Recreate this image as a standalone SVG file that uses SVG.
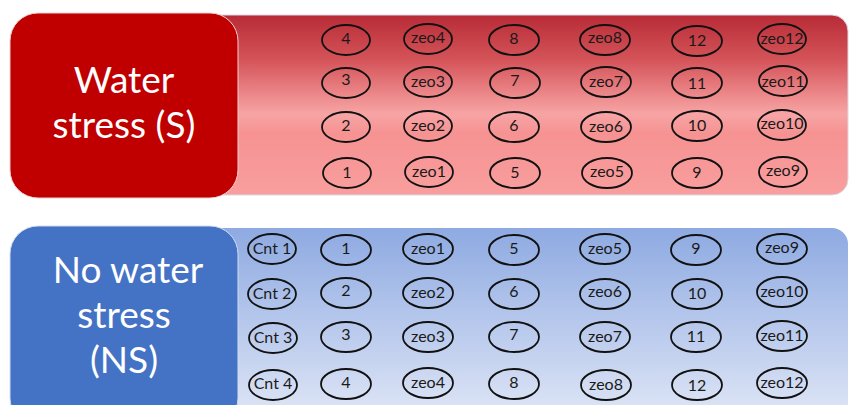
<svg xmlns="http://www.w3.org/2000/svg" width="850" height="405" viewBox="0 0 850 405">
<defs>
<linearGradient id="gRed" x1="0" y1="0" x2="0" y2="1">
<stop offset="0" stop-color="#b82b36"/>
<stop offset="0.25" stop-color="#d45459"/>
<stop offset="0.45" stop-color="#ed8a8c"/>
<stop offset="0.55" stop-color="#f7a4a5"/>
<stop offset="0.66" stop-color="#f69292"/>
<stop offset="1" stop-color="#f99e9e"/>
</linearGradient>
<linearGradient id="gBlue" x1="0" y1="0" x2="0" y2="1">
<stop offset="0" stop-color="#8eaae2"/>
<stop offset="1" stop-color="#dfe6f6"/>
</linearGradient>
</defs>
<style>
.title{font-family:"Lato","Liberation Sans",sans-serif;font-size:37px;fill:#ffffff;text-anchor:middle}
.lbl{font-family:"Lato","Liberation Sans",sans-serif;font-size:16px;fill:#1a1a1a;text-anchor:middle}
.el{fill:none;stroke:#111;stroke-width:1.8}
</style>
<rect x="200" y="15" width="648" height="180" rx="16" fill="url(#gRed)" stroke="#d8d8e6" stroke-width="1"/>
<rect x="200" y="228" width="648" height="190" rx="16" fill="url(#gBlue)"/>
<g id="stress">
<rect x="10" y="13" width="228" height="185" rx="28" fill="#c00000" stroke="#f0d0d0" stroke-width="1"/>
<text class="title" x="124" y="93">Water</text>
<text class="title" x="124" y="138">stress (S)</text>
</g>
<g id="nostress">
<rect x="10" y="226" width="228" height="200" rx="28" fill="#4472c4" stroke="#d0dcf0" stroke-width="1"/>
<text class="title" x="128" y="283">No water</text>
<text class="title" x="124" y="328">stress</text>
<text class="title" x="124" y="373">(NS)</text>
</g>
<g id="s-nodes">
<g id="s4"><ellipse class="el" cx="346" cy="40" rx="24" ry="15"/><text class="lbl" x="346" y="44">4</text></g>
<g id="szeo4"><ellipse class="el" cx="428" cy="39" rx="24" ry="15"/><text class="lbl" x="428" y="43">zeo4</text></g>
<g id="s8"><ellipse class="el" cx="514" cy="40" rx="25" ry="15"/><text class="lbl" x="514" y="44">8</text></g>
<g id="szeo8"><ellipse class="el" cx="605" cy="40" rx="25" ry="15"/><text class="lbl" x="605" y="43">zeo8</text></g>
<g id="s12"><ellipse class="el" cx="697" cy="41" rx="25" ry="15"/><text class="lbl" x="697" y="46">12</text></g>
<g id="szeo12"><ellipse class="el" cx="782" cy="39" rx="24" ry="15"/><text class="lbl" x="782" y="44">zeo12</text></g>

<g id="s3"><ellipse class="el" cx="346" cy="83" rx="24" ry="15"/><text class="lbl" x="346" y="85">3</text></g>
<g id="szeo3"><ellipse class="el" cx="428" cy="82" rx="24" ry="15"/><text class="lbl" x="428" y="87">zeo3</text></g>
<g id="s7"><ellipse class="el" cx="515" cy="83" rx="25" ry="15"/><text class="lbl" x="515" y="86">7</text></g>
<g id="szeo7"><ellipse class="el" cx="606" cy="82" rx="25" ry="15"/><text class="lbl" x="606" y="87">zeo7</text></g>
<g id="s11"><ellipse class="el" cx="697" cy="83" rx="25" ry="15"/><text class="lbl" x="697" y="89">11</text></g>
<g id="szeo11"><ellipse class="el" cx="783" cy="81" rx="24" ry="15"/><text class="lbl" x="783" y="87">zeo11</text></g>

<g id="s2"><ellipse class="el" cx="346" cy="127" rx="24" ry="15"/><text class="lbl" x="346" y="131">2</text></g>
<g id="szeo2"><ellipse class="el" cx="428" cy="126" rx="24" ry="15"/><text class="lbl" x="428" y="131">zeo2</text></g>
<g id="s6"><ellipse class="el" cx="514" cy="127" rx="25" ry="15"/><text class="lbl" x="514" y="131">6</text></g>
<g id="szeo6"><ellipse class="el" cx="606" cy="127" rx="25" ry="15"/><text class="lbl" x="606" y="132">zeo6</text></g>
<g id="s10"><ellipse class="el" cx="697" cy="126" rx="25" ry="15"/><text class="lbl" x="697" y="131">10</text></g>
<g id="szeo10"><ellipse class="el" cx="782" cy="125" rx="24" ry="15"/><text class="lbl" x="782" y="129">zeo10</text></g>

<g id="s1"><ellipse class="el" cx="347" cy="173" rx="24" ry="15"/><text class="lbl" x="347" y="178">1</text></g>
<g id="szeo1"><ellipse class="el" cx="429" cy="172" rx="24" ry="15"/><text class="lbl" x="429" y="177">zeo1</text></g>
<g id="s5"><ellipse class="el" cx="515" cy="173" rx="25" ry="15"/><text class="lbl" x="515" y="178">5</text></g>
<g id="szeo5"><ellipse class="el" cx="607" cy="173" rx="25" ry="15"/><text class="lbl" x="607" y="177">zeo5</text></g>
<g id="s9"><ellipse class="el" cx="697" cy="173" rx="25" ry="15"/><text class="lbl" x="697" y="178">9</text></g>
<g id="szeo9"><ellipse class="el" cx="783" cy="172" rx="24" ry="15"/><text class="lbl" x="783" y="176">zeo9</text></g>
</g>
<g id="ns-nodes">
<g id="cnt1"><ellipse class="el" cx="272" cy="249" rx="24" ry="15"/><text class="lbl" x="272" y="254">Cnt 1</text></g>
<g id="cnt2"><ellipse class="el" cx="272" cy="294" rx="24" ry="15"/><text class="lbl" x="272" y="299">Cnt 2</text></g>
<g id="cnt3"><ellipse class="el" cx="273" cy="338" rx="24" ry="15"/><text class="lbl" x="273" y="343">Cnt 3</text></g>
<g id="cnt4"><ellipse class="el" cx="273" cy="385" rx="24" ry="15"/><text class="lbl" x="273" y="389">Cnt 4</text></g>

<g id="n1"><ellipse class="el" cx="346" cy="250" rx="25" ry="15"/><text class="lbl" x="346" y="254">1</text></g>
<g id="nzeo1"><ellipse class="el" cx="428" cy="249" rx="25" ry="15"/><text class="lbl" x="428" y="254">zeo1</text></g>
<g id="n5"><ellipse class="el" cx="514" cy="250" rx="25" ry="15"/><text class="lbl" x="514" y="254">5</text></g>
<g id="nzeo5"><ellipse class="el" cx="605" cy="249" rx="25" ry="15"/><text class="lbl" x="605" y="254">zeo5</text></g>
<g id="n9"><ellipse class="el" cx="696" cy="250" rx="25" ry="15"/><text class="lbl" x="696" y="254">9</text></g>
<g id="nzeo9"><ellipse class="el" cx="782" cy="249" rx="25" ry="15"/><text class="lbl" x="782" y="253">zeo9</text></g>

<g id="n2"><ellipse class="el" cx="346" cy="293" rx="25" ry="15"/><text class="lbl" x="346" y="296">2</text></g>
<g id="nzeo2"><ellipse class="el" cx="428" cy="293" rx="25" ry="15"/><text class="lbl" x="428" y="298">zeo2</text></g>
<g id="n6"><ellipse class="el" cx="514" cy="294" rx="25" ry="15"/><text class="lbl" x="514" y="297">6</text></g>
<g id="nzeo6"><ellipse class="el" cx="605" cy="294" rx="25" ry="15"/><text class="lbl" x="605" y="297">zeo6</text></g>
<g id="n10"><ellipse class="el" cx="697" cy="294" rx="25" ry="15"/><text class="lbl" x="697" y="299">10</text></g>
<g id="nzeo10"><ellipse class="el" cx="782" cy="292" rx="25" ry="15"/><text class="lbl" x="782" y="297">zeo10</text></g>

<g id="n3"><ellipse class="el" cx="346" cy="337" rx="25" ry="15"/><text class="lbl" x="346" y="340">3</text></g>
<g id="nzeo3"><ellipse class="el" cx="428" cy="337" rx="25" ry="15"/><text class="lbl" x="428" y="342">zeo3</text></g>
<g id="n7"><ellipse class="el" cx="514" cy="337" rx="25" ry="15"/><text class="lbl" x="514" y="340">7</text></g>
<g id="nzeo7"><ellipse class="el" cx="605" cy="337" rx="25" ry="15"/><text class="lbl" x="605" y="342">zeo7</text></g>
<g id="n11"><ellipse class="el" cx="696" cy="337" rx="25" ry="15"/><text class="lbl" x="696" y="342">11</text></g>
<g id="nzeo11"><ellipse class="el" cx="782" cy="336" rx="25" ry="15"/><text class="lbl" x="782" y="341">zeo11</text></g>

<g id="n4"><ellipse class="el" cx="346" cy="384" rx="25" ry="15"/><text class="lbl" x="346" y="388">4</text></g>
<g id="nzeo4"><ellipse class="el" cx="428" cy="383" rx="25" ry="15"/><text class="lbl" x="428" y="388">zeo4</text></g>
<g id="n8"><ellipse class="el" cx="514" cy="384" rx="25" ry="15"/><text class="lbl" x="514" y="388">8</text></g>
<g id="nzeo8"><ellipse class="el" cx="606" cy="385" rx="25" ry="15"/><text class="lbl" x="606" y="390">zeo8</text></g>
<g id="n12"><ellipse class="el" cx="697" cy="385" rx="25" ry="15"/><text class="lbl" x="697" y="391">12</text></g>
<g id="nzeo12"><ellipse class="el" cx="782" cy="383" rx="25" ry="15"/><text class="lbl" x="782" y="388">zeo12</text></g>
</g>
<g id="connectors"/>
</svg>
